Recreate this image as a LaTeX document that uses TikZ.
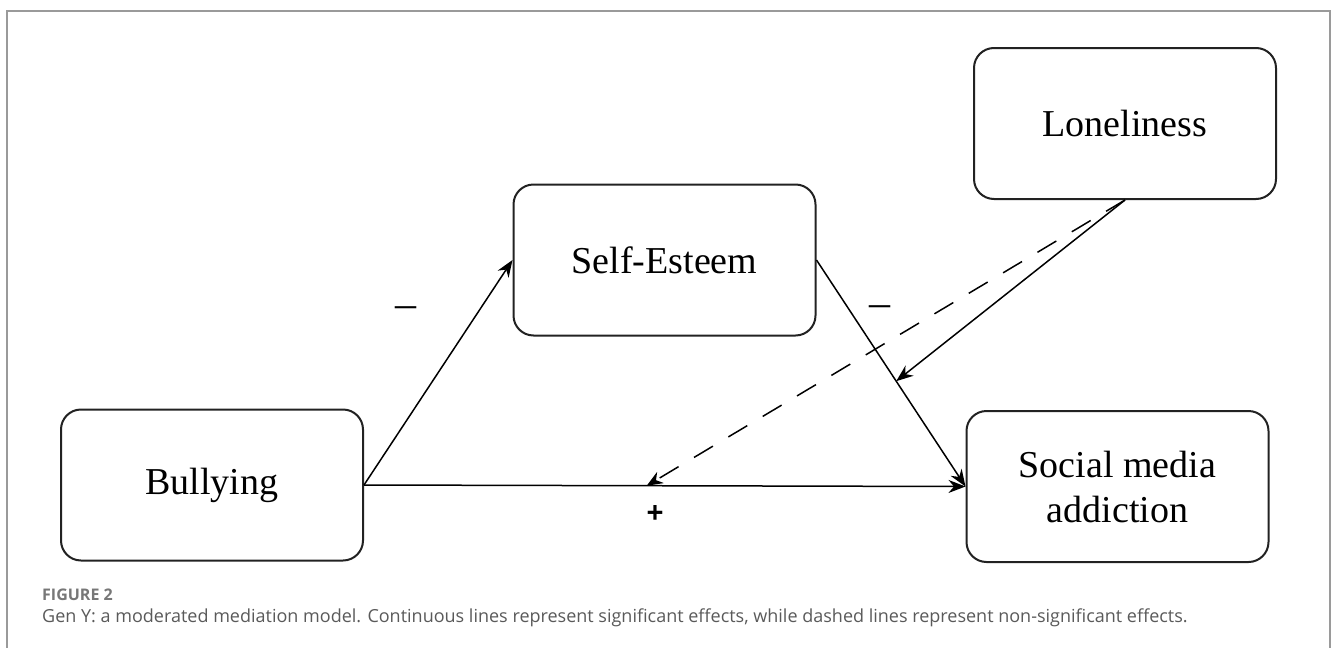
\documentclass[tikz,border=0pt]{standalone}
\usepackage{fontspec}
\setmainfont{Liberation Serif}
\newfontfamily\capfont{Open Sans}
\newfontfamily\plusfont{Liberation Sans}
\usetikzlibrary{arrows.meta,calc}
\definecolor{framegray}{HTML}{9A9A9A}
\definecolor{captxt}{HTML}{5A5A5A}
\definecolor{capttl}{HTML}{777777}
\definecolor{boxline}{HTML}{222222}
\begin{document}
\begin{tikzpicture}[x=1pt,y=-1pt,
  varbox/.style={draw=boxline,line width=2pt,rounded corners=20pt,minimum width=302pt,minimum height=151pt,inner sep=0pt,align=center,font=\fontsize{38}{45}\selectfont},
  conn/.style={line width=1.5pt,-{Stealth[length=17pt,width=13pt]}},
  dconn/.style={line width=1.5pt,dash pattern=on 22pt off 18pt,-{Stealth[length=16pt,width=13pt]}},
  sign/.style={inner sep=0pt,font=\fontsize{42}{42}\selectfont},
  plus/.style={inner sep=0pt,font=\plusfont\bfseries\fontsize{29}{29}\selectfont}]
\useasboundingbox (0,0) rectangle (1331,648);
\fill[white] (0,0) rectangle (1331,648);
\draw[framegray,line width=1.5pt] (7,648) -- (7,11) -- (1330,11) -- (1330,648);

\node[varbox] (bully) at (212,485) {Bullying};
\node[varbox] (self) at (664.5,260) {Self-Esteem};
\node[varbox] (lone) at (1125,123.5) {Loneliness};
\node[varbox] (sma) at (1117.5,486.5) {Social media\\addiction};

\coordinate (m1) at ($(self.east)!0.535!(sma.west)$);
\coordinate (m2) at ($(bully.east)!0.47!(sma.west)$);

\draw[conn] (bully.east) -- (self.west);
\draw[conn] (bully.east) -- (sma.west);
\draw[conn] (self.east) -- (sma.west);
\draw[conn] (lone.south) -- (m1);
\draw[dconn] (lone.south) -- (m2);

\node[sign] (s1) at (406,312) {–};
\node[sign] (s2) at (880,311) {–};
\node[plus] (s3) at (655,514) {+};

\node[anchor=base west,inner sep=0pt,text=capttl,font=\capfont\bfseries\fontsize{16}{16}\selectfont] (fig) at (42,600) {FIGURE 2};
\node[anchor=base west,inner sep=0pt,text=captxt,font=\capfont\fontsize{18}{18}\selectfont] (cap) at (42,622) {Gen Y: a moderated mediation model. Continuous lines represent significant effects, while dashed lines represent non-significant effects.};
\end{tikzpicture}
\end{document}
